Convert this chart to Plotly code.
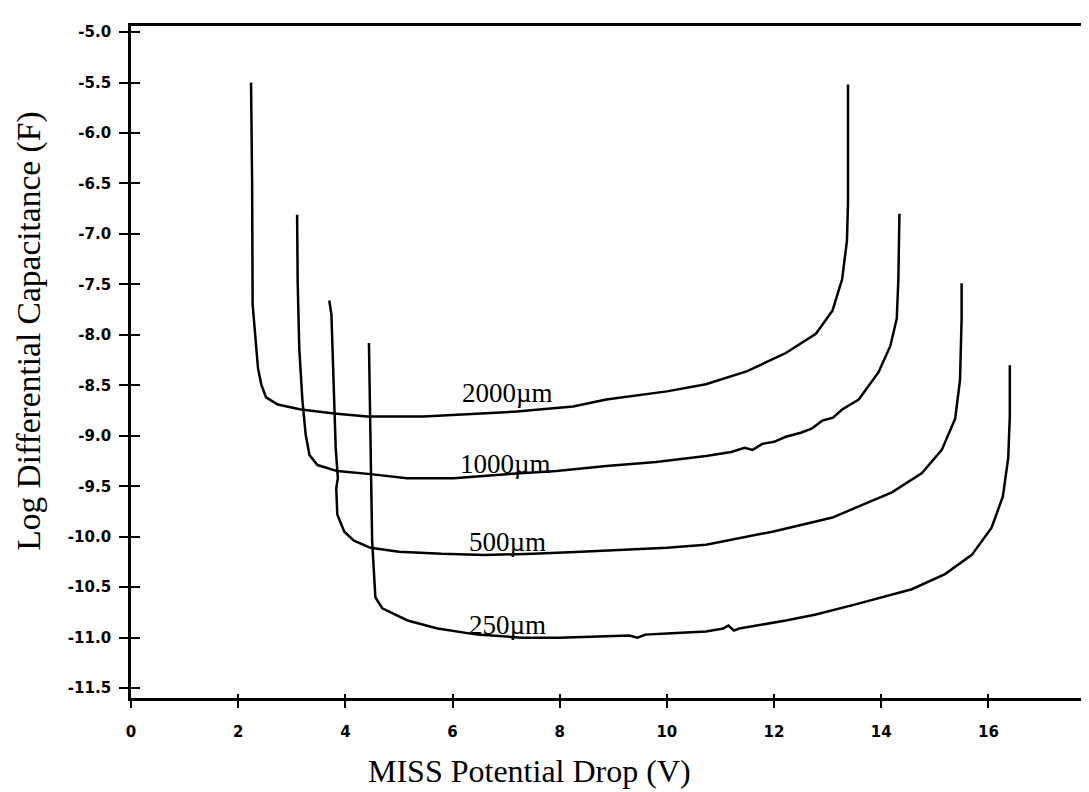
import plotly.graph_objects as go

# ---- data ----
volt_2000 = [2.24, 2.26, 2.27, 2.32, 2.37, 2.43, 2.52, 2.74, 3.17, 3.79, 4.41, 5.46, 6.08, 7.20,
             8.25, 8.87, 10.0, 10.73, 11.5, 12.22, 12.78, 13.09, 13.27, 13.36, 13.38, 13.38]
logc_2000 = [-5.50, -6.48, -7.70, -8.06, -8.33, -8.49, -8.62, -8.69, -8.74, -8.78, -8.81, -8.81, -8.79, -8.76,
             -8.71, -8.64, -8.56, -8.49, -8.36, -8.18, -7.99, -7.76, -7.45, -7.07, -6.69, -5.52]

volt_1000 = [3.10, 3.11, 3.14, 3.20, 3.26, 3.33, 3.48, 3.85, 4.47, 5.15, 6.02, 7.01, 7.94, 8.87, 9.8,
             10.73, 11.2, 11.45, 11.6, 11.78, 12.0, 12.22, 12.5, 12.7, 12.9, 13.1, 13.27, 13.58, 13.95,
             14.17, 14.29, 14.32, 14.34]
logc_1000 = [-6.81, -7.47, -8.13, -8.66, -8.99, -9.19, -9.29, -9.35, -9.38, -9.42, -9.42, -9.38, -9.35, -9.30, -9.26,
             -9.20, -9.16, -9.12, -9.14, -9.08, -9.06, -9.01, -8.97, -8.93, -8.85, -8.82, -8.74, -8.64, -8.37,
             -8.11, -7.84, -7.45, -6.80]

volt_500 = [3.70, 3.74, 3.78, 3.82, 3.86, 3.83, 3.85, 3.98, 4.16, 4.47, 5.0, 5.8, 6.6, 7.5, 8.4, 9.3, 10.0,
            10.73, 11.97, 13.09, 14.20, 14.76, 15.13, 15.38, 15.47, 15.50, 15.50]
logc_500 = [-7.66, -7.80, -8.46, -9.12, -9.42, -9.52, -9.78, -9.95, -10.04, -10.11, -10.15, -10.17, -10.18, -10.17,
            -10.15, -10.13, -10.11, -10.08, -9.95, -9.81, -9.56, -9.37, -9.14, -8.83, -8.45, -7.84, -7.49]

volt_250 = [4.44, 4.46, 4.47, 4.50, 4.56, 4.69, 5.16, 5.72, 6.46, 7.3, 8.0, 8.8, 9.3, 9.45, 9.6, 10.0, 10.73,
            11.05, 11.15, 11.25, 11.35, 12.22, 12.78, 13.52, 14.57, 15.19, 15.69, 16.06, 16.27, 16.37, 16.40, 16.40]
logc_250 = [-8.08, -8.79, -9.45, -10.04, -10.60, -10.71, -10.83, -10.91, -10.97, -11.00, -11.00, -10.99, -10.98,
            -11.00, -10.97, -10.96, -10.94, -10.91, -10.88, -10.93, -10.91, -10.83, -10.77, -10.67, -10.52, -10.37,
            -10.18, -9.91, -9.60, -9.22, -8.80, -8.30]

series_names = ["2000\u00b5m", "1000\u00b5m", "500\u00b5m", "250\u00b5m"]
label_x = [7.03, 6.98, 7.02, 7.02]
label_y = [-8.58, -9.28, -10.05, -10.87]

x_tickvals = [0, 2, 4, 6, 8, 10, 12, 14, 16]
x_ticktext = ["0", "2", "4", "6", "8", "10", "12", "14", "16"]
y_tickvals = [-5.0, -5.5, -6.0, -6.5, -7.0, -7.5, -8.0, -8.5, -9.0, -9.5, -10.0, -10.5, -11.0, -11.5]
y_ticktext = ["-5.0", "-5.5", "-6.0", "-6.5", "-7.0", "-7.5", "-8.0", "-8.5", "-9.0", "-9.5",
              "-10.0", "-10.5", "-11.0", "-11.5"]

x_range = [0, 17.84]
y_range = [-11.598, -4.94]

fig = go.Figure()
all_x = [volt_2000, volt_1000, volt_500, volt_250]
all_y = [logc_2000, logc_1000, logc_500, logc_250]
for xs, ys, nm in zip(all_x, all_y, series_names):
    fig.add_trace(go.Scatter(x=xs, y=ys, mode="lines", name=nm,
                             line=dict(color="black", width=2.5), showlegend=False))

# invisible copy on the overlay axes (carries the inner halves of the ticks)
fig.add_trace(go.Scatter(x=volt_2000, y=logc_2000, mode="lines", xaxis="x2", yaxis="y2",
                         line=dict(color="rgba(0,0,0,0)", width=0), showlegend=False, hoverinfo="skip"))

for nm, lx, ly in zip(series_names, label_x, label_y):
    fig.add_annotation(x=lx, y=ly, text=nm, showarrow=False,
                       font=dict(family="Liberation Serif", size=27, color="black"))

tickfont = dict(family="DejaVu Sans", size=15, color="black", weight="bold")

fig.update_layout(
    width=1089, height=792,
    margin=dict(l=123, r=7, t=18, b=102),
    plot_bgcolor="white", paper_bgcolor="white",
    xaxis=dict(range=x_range, tickvals=x_tickvals, ticktext=x_ticktext, ticks="outside",
               ticklen=7, tickwidth=2, tickcolor="black", showgrid=False, zeroline=False,
               showline=True, linecolor="black", linewidth=2.5, mirror=True,
               tickfont=tickfont, ticklabelstandoff=11),
    yaxis=dict(range=y_range, tickvals=y_tickvals, ticktext=y_ticktext, ticks="outside",
               ticklen=9, tickwidth=2, tickcolor="black", showgrid=False, zeroline=False,
               showline=True, linecolor="black", linewidth=2.8, mirror=True,
               tickfont=tickfont, ticklabelstandoff=5),
    xaxis2=dict(range=x_range, overlaying="x", anchor="y2", side="bottom", tickvals=x_tickvals,
                ticks="inside", ticklen=4, tickwidth=2, tickcolor="black", showticklabels=False,
                showgrid=False, zeroline=False, showline=False),
    yaxis2=dict(range=y_range, overlaying="y", anchor="x2", side="left", tickvals=y_tickvals,
                ticks="inside", ticklen=9, tickwidth=2, tickcolor="black", showticklabels=False,
                showgrid=False, zeroline=False, showline=False),
)

fig.add_annotation(xref="paper", yref="paper", x=0.4164, y=-0.108, text="MISS Potential Drop (V)",
                   showarrow=False, xanchor="center", yanchor="middle",
                   font=dict(family="Liberation Serif", size=32, color="black"))
fig.add_annotation(xref="paper", yref="paper", x=-0.107, y=0.546, text="Log Differential Capacitance (F)",
                   showarrow=False, xanchor="center", yanchor="middle", textangle=-90,
                   font=dict(family="Liberation Serif", size=33.5, color="black"))

fig.write_html("out.html")
